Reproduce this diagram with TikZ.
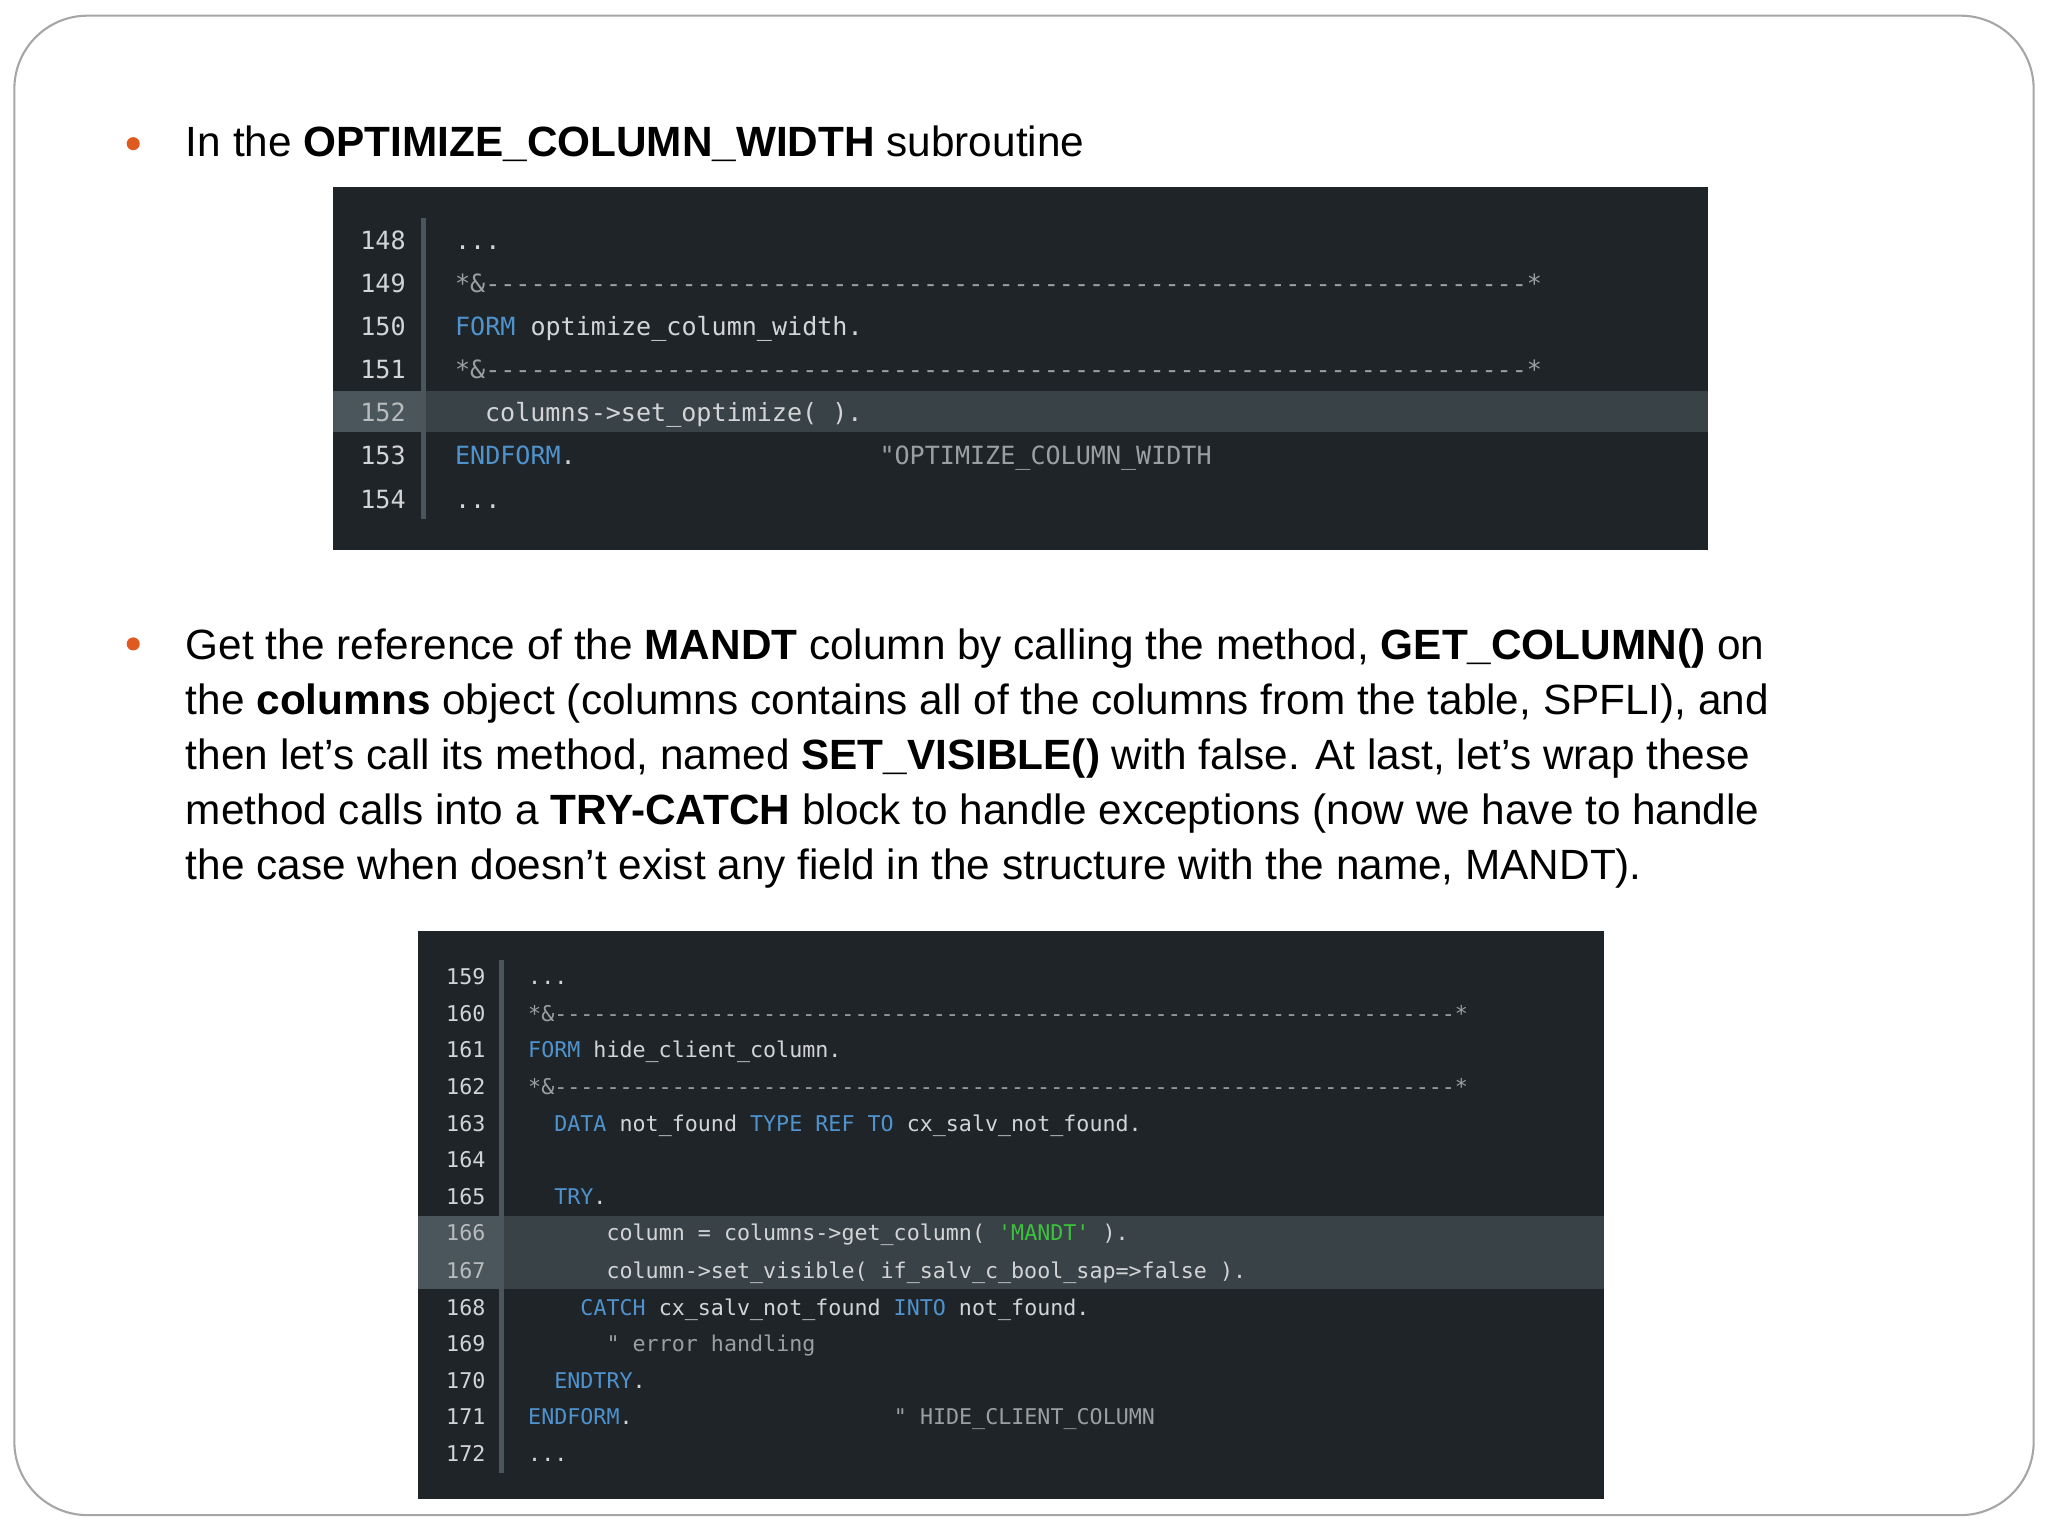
\documentclass[tikz,border=0pt]{standalone}
\usepackage{fontspec}
\setmainfont{Liberation Sans}
\setmonofont{DejaVu Sans Mono}
\definecolor{bg}{HTML}{1F2428}
\definecolor{hl}{HTML}{394247}
\definecolor{hlg}{HTML}{4A565C}
\definecolor{kw}{HTML}{4F93CE}
\definecolor{tx}{HTML}{D2D4D6}
\definecolor{cm}{HTML}{9A9FA3}
\definecolor{st}{HTML}{3CC23C}
\definecolor{bul}{HTML}{E0591E}
\tikzset{x=0.5pt,y=-0.5pt,
 para/.style={anchor=base west,inner sep=0,font=\fontsize{16.2}{20}\selectfont},
 ca/.style={anchor=base west,inner sep=0,text=tx,font=\ttfamily\fontsize{9.6}{12}\selectfont},
 cb/.style={anchor=base west,inner sep=0,text=tx,font=\ttfamily\fontsize{8.3}{10}\selectfont},
 na/.style={anchor=base east,inner sep=0,text=tx,font=\ttfamily\fontsize{9.6}{12}\selectfont},
 nb/.style={anchor=base east,inner sep=0,text=tx,font=\ttfamily\fontsize{8.3}{10}\selectfont}}
\newcommand{\K}[1]{\textcolor{kw}{#1}}
\newcommand{\Cm}[1]{\textcolor{cm}{#1}}
\begin{document}
\begin{tikzpicture}
\useasboundingbox (0,0) rectangle (1568,1176);
\draw[gray!70,line width=0.8pt,rounded corners=28pt] (11,12) rectangle (1557,1160);
% bullets
\fill[bul] (102,110) circle (5);
\fill[bul] (102,493) circle (5);
\node[para] (t1) at (142,120) {In the \textbf{OPTIMIZE\_COLUMN\_WIDTH} subroutine};
\node[para] (p1) at (142,505) {Get the reference of the \textbf{MANDT} column by calling the method, \textbf{GET\_COLUMN()} on};
\node[para] (p2) at (142,547) {the \textbf{columns} object (columns contains all of the columns from the table, SPFLI), and};
\node[para] (p3) at (142,589) {then let's call its method, named \textbf{SET\_VISIBLE()} with false. At last, let's wrap these};
\node[para] (p4) at (142,631) {method calls into a \textbf{TRY-CATCH} block to handle exceptions (now we have to handle};
\node[para] (p5) at (142,673) {the case when doesn't exist any field in the structure with the name, MANDT).};
% block 1
\fill[bg] (255,143) rectangle (1308,421);
\fill[hl] (255,299) rectangle (1308,331);
\fill[hlg] (255,299) rectangle (323,331);
\draw[hlg,line width=2pt] (324,167) -- (324,397);
\foreach \n/\y in {148/191,149/224,150/257,151/290,153/356,154/389}
  \node[na] at (311,\y) {\n};
\node[na,text=cm!70] at (311,323) {152};
\def\ch{11.6}
\node[ca] (a1) at (348,191) {...};
\node[ca] (a2) at (348,224) {\Cm{*\&---------------------------------------------------------------------*}};
\node[ca] (a3) at (348,257) {\K{FORM} optimize\_column\_width.};
\node[ca] (a4) at (348,290) {\Cm{*\&---------------------------------------------------------------------*}};
\node[ca] (a5) at (371,323) {columns->set\_optimize( ).};
\node[ca] (a6) at (348,356) {\K{ENDFORM}.};
\node[ca] (a6c) at (673,356) {\Cm{"OPTIMIZE\_COLUMN\_WIDTH}};
\node[ca] (a7) at (348,389) {...};
% block 2
\fill[bg] (320,713) rectangle (1228,1148);
\fill[hl] (320,931) rectangle (1228,987);
\fill[hlg] (320,931) rectangle (383,987);
\draw[hlg,line width=2pt] (384,735) -- (384,1128);
\foreach \n/\y in {159/754,160/782,161/810,162/838,163/866,164/894,165/922,168/1007,169/1035,170/1063,171/1091,172/1119}
  \node[nb] at (372,\y) {\n};
\node[nb,text=cm!70] at (372,950) {166};
\node[nb,text=cm!70] at (372,979) {167};
\node[cb] (b1) at (404,754) {...};
\node[cb] (b2) at (404,782) {\Cm{*\&---------------------------------------------------------------------*}};
\node[cb] (b3) at (404,810) {\K{FORM} hide\_client\_column.};
\node[cb] (b4) at (404,838) {\Cm{*\&---------------------------------------------------------------------*}};
\node[cb] (b5) at (424,866) {\K{DATA} not\_found \K{TYPE} \K{REF} \K{TO} cx\_salv\_not\_found.};
\node[cb] (b7) at (424,922) {\K{TRY}.};
\node[cb] (b8) at (464,950) {column = columns->get\_column( \textcolor{st}{'MANDT'} ).};
\node[cb] (b9) at (464,979) {column->set\_visible( if\_salv\_c\_bool\_sap=>false ).};
\node[cb] (b10) at (444,1007) {\K{CATCH} cx\_salv\_not\_found \K{INTO} not\_found.};
\node[cb] (b11) at (464,1035) {\Cm{" error handling}};
\node[cb] (b12) at (424,1063) {\K{ENDTRY}.};
\node[cb] (b13) at (404,1091) {\K{ENDFORM}.};
\node[cb] (b13c) at (684,1091) {\Cm{" HIDE\_CLIENT\_COLUMN}};
\node[cb] (b14) at (404,1119) {...};
\end{tikzpicture}
\end{document}
